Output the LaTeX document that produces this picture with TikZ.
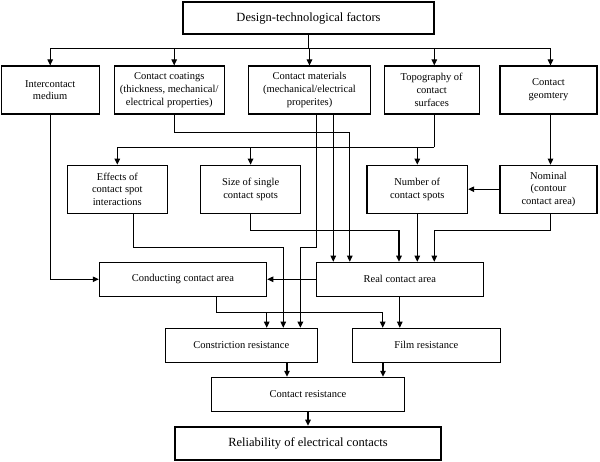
\documentclass[tikz,border=0pt]{standalone}
\usepackage{fontspec}
\setmainfont{Liberation Serif}
\usetikzlibrary{arrows.meta}

\begin{document}
\begin{tikzpicture}[x=1pt, y=-1pt, >={Triangle[length=6pt,width=5.5pt]}, line width=1.1pt]
\tikzset{
	dtbox/.style={draw, align=center, inner sep=1pt, font=\fontsize{10.5}{12.7}\selectfont},
	dtmain/.style={draw, line width=2.6pt, align=center, inner sep=1pt, font=\fontsize{12.5}{15}\selectfont},
	dtrow/.style={dtbox, minimum height=48pt},
	dtmid/.style={dtbox, minimum height=34pt}
}
\useasboundingbox (0,0) rectangle (600,462);

\node[dtmain, minimum width=251pt, minimum height=32pt] (design) at (308.5,18) {Design-technological factors};

\node[dtrow, minimum width=98pt] (inter) at (50.2,90) {Intercontact\\medium};
\node[dtrow, minimum width=109.7pt] (coat) at (169.2,90) {Contact coatings\\(thickness, mechanical/\\electrical properties)};
\node[dtrow, minimum width=122.4pt] (mat) at (309.5,90) {Contact materials\\(mechanical/electrical\\properites)};
\node[dtrow, minimum width=94.7pt] (topo) at (431.7,90) {Topography of\\contact\\surfaces};
\node[dtrow, minimum width=97pt] (geom) at (548.5,90) {Contact\\geomtery};

\node[dtrow, minimum width=100pt] (effects) at (117.3,189.2) {Effects of\\contact spot\\interactions};
\node[dtrow, minimum width=100.2pt] (size) at (250.6,189.2) {Size of single\\contact spots};
\node[dtrow, minimum width=100.7pt] (number) at (417.3,189.2) {Number of\\contact spots};
\node[dtrow, minimum width=97pt] (nominal) at (548.5,189.2) {Nominal\\(contour\\contact area)};

\node[dtmid, minimum width=167.4pt] (cond) at (183,279.3) {Conducting contact area};
\node[dtmid, minimum width=167pt] (real) at (399.8,279.3) {Real contact area};

\node[dtmid, minimum width=151.7pt] (constr) at (241.3,345.3) {Constriction resistance};
\node[dtmid, minimum width=147.7pt] (film) at (426.4,345.3) {Film resistance};

\node[dtmid, minimum width=193.5pt, minimum height=33.7pt] (contact) at (308,394.2) {Contact resistance};

\node[dtmain, minimum width=266pt, minimum height=33pt] (rel) at (308,443.5) {Reliability of electrical contacts};

% design factors
\coordinate (fbar) at (308.5,48.3);
\draw (design.south) -- (fbar);
\draw[->] (fbar) -| (inter.north);
\draw[->] (fbar) -| ([xshift=5pt]coat.north);
\draw[->] (mat.north |- fbar) -- (mat.north);
\draw[->] (fbar) -| ([xshift=2.6pt]topo.north);
\draw[->] (fbar) -| ([xshift=2pt]geom.north);

\draw[->] (inter.south) |- (cond.west);
\draw[->] ([xshift=5pt]coat.south) -- ++(0,18.3) -| ([xshift=-50pt]real.north);
\draw[->] ([xshift=23.8pt]mat.south) -- ([xshift=-66.5pt]real.north);
\draw[->] ([xshift=7.2pt]mat.south) -- ++(0,133) -| ([xshift=59.1pt]constr.north);

% topography
\coordinate (tbar) at (434.3,147.3);
\draw ([xshift=2.6pt]topo.south) -- (tbar);
\draw[->] (tbar) -| (effects.north);
\draw[->] (size.north |- tbar) -- (size.north);
\draw[->] (number.north |- tbar) -- (number.north);

\draw[->] ([xshift=2pt]geom.south) -- ([xshift=2pt]nominal.north);
\draw[->] (nominal.west) -- (number.east);

% spots to areas
\draw[->] ([xshift=16pt]effects.south) -- ++(0,33.7) -| ([xshift=42pt]constr.north);
\draw[->] (size.south) -- ++(0,17) -| ([xshift=-0.8pt]real.north);
\draw[->] (number.south) -- (number.south |- real.north);
\draw[->] ([xshift=2pt]nominal.south) -- ++(0,16.7) -| ([xshift=34.5pt]real.north);
\draw[->] (real.west) -- (cond.east);

% resistances
\coordinate (cbar) at (266.7,312.3);
\draw[->] ([xshift=33.7pt]cond.south) -- ++(0,16) -| ([xshift=-43.7pt]film.north);
\draw[->] (cbar) -- (constr.north -| cbar);
\draw[->] (real.south) -- (real.south |- film.north);
\draw[->] ([xshift=45.7pt]constr.south) -- ([xshift=45.7pt]constr.south |- contact.north);
\draw[->] ([xshift=-43.4pt]film.south) -- ([xshift=-43.4pt]film.south |- contact.north);
\draw[->] (contact.south) -- (rel.north);

\end{tikzpicture}
\end{document}
